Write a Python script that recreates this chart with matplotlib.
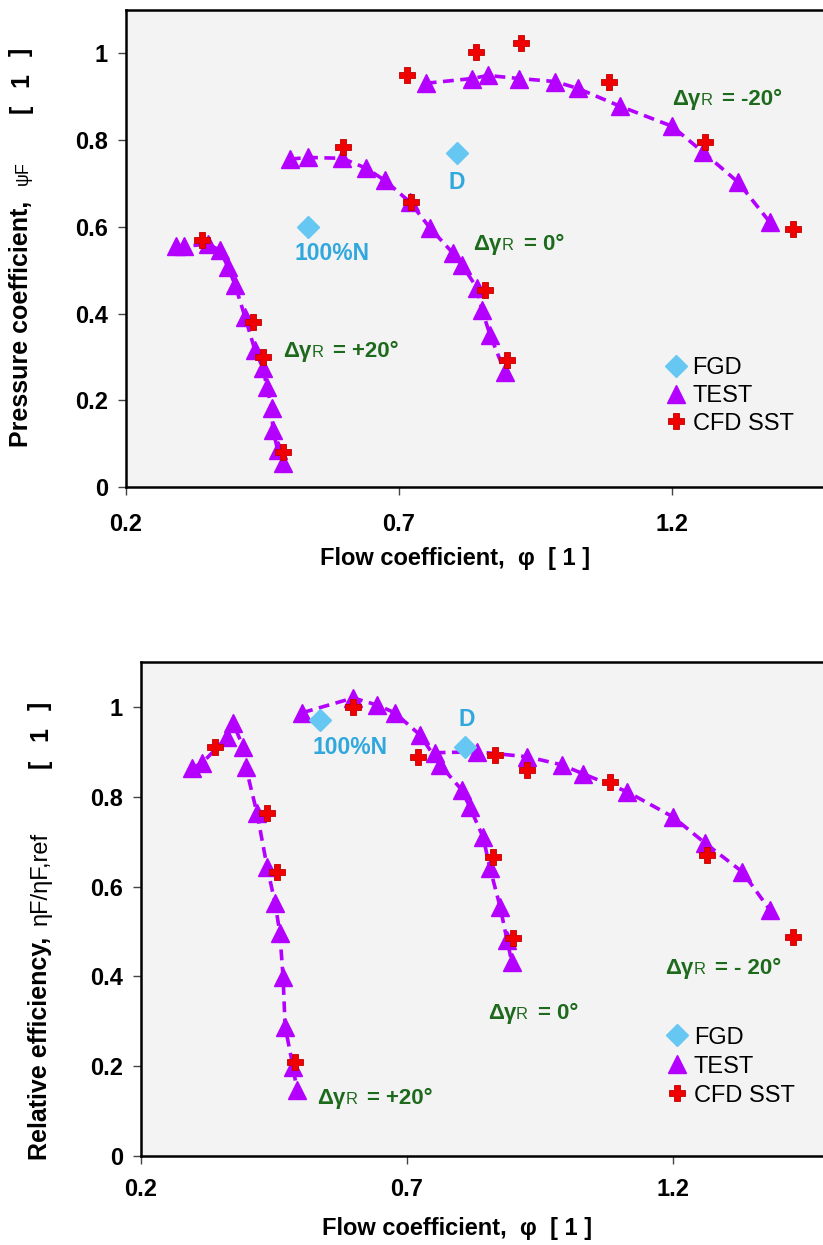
import matplotlib
matplotlib.use('Agg')
import matplotlib.pyplot as plt
from matplotlib.lines import Line2D

W, H, DPI = 823, 1245, 100
FONT = 'Liberation Sans'
plt.rcParams['font.family'] = [FONT, 'DejaVu Sans']

# ---------------- data: pressure coefficient (top) ----------------
p_test_m20_phi = [0.749, 0.834, 0.863, 0.920, 0.986, 1.028, 1.105, 1.200, 1.257, 1.321, 1.379]
p_test_m20_psi = [0.931, 0.942, 0.949, 0.942, 0.935, 0.919, 0.878, 0.832, 0.772, 0.703, 0.611]
p_test_0_phi = [0.500, 0.533, 0.596, 0.640, 0.674, 0.720, 0.757, 0.799, 0.815, 0.843, 0.852, 0.867, 0.894]
p_test_0_psi = [0.756, 0.760, 0.758, 0.735, 0.707, 0.657, 0.597, 0.539, 0.512, 0.459, 0.408, 0.350, 0.265]
p_test_p20_phi = [0.292, 0.306, 0.350, 0.372, 0.387, 0.400, 0.418, 0.436, 0.451, 0.458, 0.467, 0.469, 0.478, 0.488]
p_test_p20_psi = [0.555, 0.555, 0.560, 0.546, 0.507, 0.465, 0.392, 0.316, 0.274, 0.230, 0.182, 0.131, 0.085, 0.055]

p_cfd_m20_phi = [0.715, 0.841, 0.923, 1.085, 1.260, 1.422]
p_cfd_m20_psi = [0.949, 1.002, 1.023, 0.933, 0.795, 0.594]
p_cfd_0_phi = [0.597, 0.722, 0.858, 0.898]
p_cfd_0_psi = [0.783, 0.657, 0.454, 0.293]
p_cfd_p20_phi = [0.339, 0.433, 0.451, 0.488]
p_cfd_p20_psi = [0.569, 0.380, 0.300, 0.081]

p_fgd_phi = [0.533, 0.806]
p_fgd_psi = [0.599, 0.770]

# ---------------- data: relative efficiency (bottom) ----------------
e_test_p20_phi = [0.296, 0.315, 0.362, 0.373, 0.392, 0.397, 0.418, 0.437, 0.452, 0.461, 0.467, 0.471, 0.486, 0.493]
e_test_p20_eta = [0.864, 0.875, 0.933, 0.964, 0.911, 0.866, 0.764, 0.644, 0.563, 0.497, 0.399, 0.287, 0.198, 0.147]
e_test_0_phi = [0.503, 0.599, 0.644, 0.677, 0.724, 0.762, 0.803, 0.818, 0.843, 0.856, 0.875, 0.888, 0.897]
e_test_0_eta = [0.987, 1.020, 1.004, 0.987, 0.938, 0.871, 0.815, 0.777, 0.710, 0.641, 0.555, 0.481, 0.432]
e_test_m20_phi = [0.752, 0.832, 0.926, 0.991, 1.031, 1.114, 1.200, 1.260, 1.330, 1.382]
e_test_m20_eta = [0.898, 0.900, 0.889, 0.871, 0.851, 0.811, 0.755, 0.697, 0.633, 0.548]

e_cfd_p20_phi = [0.339, 0.437, 0.456, 0.489]
e_cfd_p20_eta = [0.911, 0.764, 0.633, 0.209]
e_cfd_0_phi = [0.599, 0.862, 0.899]
e_cfd_0_eta = [1.000, 0.666, 0.486]
e_cfd_m20_phi = [0.721, 0.865, 0.926, 1.082, 1.264, 1.426]
e_cfd_m20_eta = [0.889, 0.893, 0.860, 0.833, 0.670, 0.488]

e_fgd_phi = [0.536, 0.809]
e_fgd_eta = [0.971, 0.911]

x_ticks = [0.2, 0.7, 1.2]
x_ticklabels = ['0.2', '0.7', '1.2']
y_ticks = [0, 0.2, 0.4, 0.6, 0.8, 1.0]
y_ticklabels = ['0', '0.2', '0.4', '0.6', '0.8', '1']
legend_labels = ['FGD', 'TEST', 'CFD SST']

# ---------------- styles ----------------
PURPLE = '#b400ff'
RED = '#f00000'
DIAMOND = '#66c8f2'
BLUE_TXT = '#30a8de'
GREEN = '#1d6a1d'
BG = '#f3f3f3'

fig = plt.figure(figsize=(W / DPI, H / DPI), dpi=DPI)
fig.patch.set_facecolor('white')


def px_axes(left, top, right, bottom):
    return fig.add_axes([left / W, 1 - bottom / H, (right - left) / W, (bottom - top) / H])


# axes extend beyond right edge of figure (cropped original)
ax1 = px_axes(126, 10, 126 + 1.3 * 546, 487)
ax2 = px_axes(141, 662, 141 + 1.3 * 532, 1156)


def style_axes(ax, xpad):
    ax.set_facecolor(BG)
    ax.set_xlim(0.2, 1.5)
    ax.set_ylim(0, 1.1)
    ax.set_xticks(x_ticks)
    ax.set_xticklabels(x_ticklabels)
    ax.set_yticks(y_ticks)
    ax.set_yticklabels(y_ticklabels)
    for s in ax.spines.values():
        s.set_linewidth(1.8)
        s.set_color('black')
    ax.tick_params(axis='both', direction='out', length=6, width=1, color='#444444',
                   labelsize=17)
    ax.tick_params(axis='x', pad=xpad)
    ax.tick_params(axis='y', pad=7)
    for lab in ax.get_xticklabels() + ax.get_yticklabels():
        lab.set_fontweight('bold')
        lab.set_family(FONT)


def curve(ax, x, y):
    ax.plot(x, y, color=PURPLE, lw=2.6, dashes=(3, 1.8), zorder=2)
    ax.plot(x, y, ls='none', marker='^', ms=12.5, color=PURPLE, mec=PURPLE, zorder=3)


def cfd(ax, x, y):
    ax.plot(x, y, ls='none', marker='P', ms=11, color=RED, mec='#c00000', mew=0.6, zorder=4)


def fgd(ax, x, y):
    ax.plot(x, y, ls='none', marker='D', ms=11, color=DIAMOND, mec=DIAMOND, zorder=5)


style_axes(ax1, 13)
style_axes(ax2, 10)

curve(ax1, p_test_m20_phi, p_test_m20_psi)
curve(ax1, p_test_0_phi, p_test_0_psi)
curve(ax1, p_test_p20_phi, p_test_p20_psi)
cfd(ax1, p_cfd_m20_phi, p_cfd_m20_psi)
cfd(ax1, p_cfd_0_phi, p_cfd_0_psi)
cfd(ax1, p_cfd_p20_phi, p_cfd_p20_psi)
fgd(ax1, p_fgd_phi, p_fgd_psi)

curve(ax2, e_test_p20_phi, e_test_p20_eta)
curve(ax2, e_test_0_phi, e_test_0_eta)
curve(ax2, e_test_m20_phi, e_test_m20_eta)
cfd(ax2, e_cfd_p20_phi, e_cfd_p20_eta)
cfd(ax2, e_cfd_0_phi, e_cfd_0_eta)
cfd(ax2, e_cfd_m20_phi, e_cfd_m20_eta)
fgd(ax2, e_fgd_phi, e_fgd_eta)

# legends
handles = [
    Line2D([], [], ls='none', marker='D', ms=11, color=DIAMOND),
    Line2D([], [], ls='none', marker='^', ms=13, color=PURPLE),
    Line2D([], [], ls='none', marker='P', ms=12, color=RED, mec='#c00000', mew=0.6),
]
for ax, anchor, sp in ((ax1, (0.760, 0.272), 0.24), (ax2, (0.760, 0.262), 0.30)):
    ax.legend(handles, legend_labels, loc='upper left', bbox_to_anchor=anchor,
              frameon=False, prop={'family': FONT, 'size': 17}, handlelength=0.9,
              handletextpad=0.25, labelspacing=sp, borderpad=0, borderaxespad=0)

renderer = fig.canvas.get_renderer()


def seq_text(x, y, parts, color='black', rotation=0):
    """x, y in display pixels (origin bottom-left). parts: (text, size, weight, gap_px)."""
    for s, size, weight, gap in parts:
        t = fig.text(x / W, y / H, s, fontsize=size, fontweight=weight, color=color,
                     family=FONT, ha='left', va='baseline', rotation=rotation,
                     rotation_mode='anchor')
        ext = t.get_window_extent(renderer=renderer)
        if rotation == 0:
            x += ext.width + gap
        else:
            y += ext.height + gap


def dgamma(ax, xd, yd, value):
    px, py = ax.transData.transform((xd, yd))
    seq_text(px, py, [('Δγ', 16, 'bold', 0), ('R', 12, 'normal', 10),
                      ('= ' + value, 16, 'bold', 0)], color=GREEN)


dgamma(ax1, 1.200, 0.882, '-20°')
dgamma(ax1, 0.836, 0.546, '0°')
dgamma(ax1, 0.488, 0.300, '+20°')
dgamma(ax2, 0.531, 0.116, '+20°')
dgamma(ax2, 0.852, 0.305, '0°')
dgamma(ax2, 1.185, 0.405, '- 20°')

# blue annotation labels
ax1.text(0.577, 0.539, '100%N', color=BLUE_TXT, fontsize=16.5, fontweight='bold',
         ha='center', va='center', family=FONT)
ax1.text(0.806, 0.703, 'D', color=BLUE_TXT, fontsize=16.5, fontweight='bold',
         ha='center', va='center', family=FONT)
ax2.text(0.593, 0.909, '100%N', color=BLUE_TXT, fontsize=16.5, fontweight='bold',
         ha='center', va='center', family=FONT)
ax2.text(0.813, 0.971, 'D', color=BLUE_TXT, fontsize=16.5, fontweight='bold',
         ha='center', va='center', family=FONT)

# x labels
fig.text(455 / W, 1 - 558 / H, 'Flow coefficient,  φ  [ 1 ]', fontsize=17, fontweight='bold',
         ha='center', va='center', family=FONT)
fig.text(457 / W, 1 - 1228 / H, 'Flow coefficient,  φ  [ 1 ]', fontsize=17, fontweight='bold',
         ha='center', va='center', family=FONT)

# y labels (rotated, assembled in parts)
seq_text(28, H - 447, [('Pressure coefficient,', 18, 'bold', 16), ('ψF', 13, 'normal', 48),
                       ('[', 18, 'bold', 18), ('1', 18, 'bold', 17), (']', 18, 'bold', 0)],
         rotation=90)
seq_text(47, H - 1160, [('Relative efficiency,', 18, 'bold', 12), ('ηF/ηF,ref', 17, 'normal', 64),
                        ('[', 18, 'bold', 18), ('1', 18, 'bold', 17), (']', 18, 'bold', 0)],
         rotation=90)

fig.savefig('out.png', dpi=DPI, facecolor='white')
